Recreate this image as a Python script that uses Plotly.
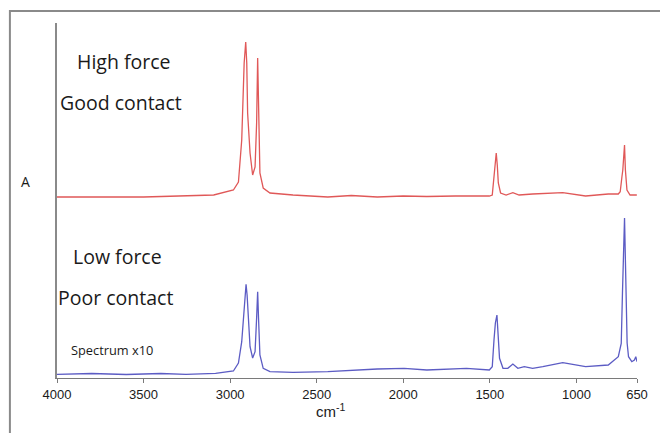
import plotly.graph_objects as go

# ---- data (wavenumber, absorbance in arbitrary display units) ----
red_wn = [4000, 3500, 3095, 2981, 2952, 2933, 2919, 2910, 2904, 2899, 2885, 2870, 2856, 2847,
          2841, 2836, 2828, 2809, 2770, 2637, 2436, 2300, 2150, 2000, 1864, 1700, 1503, 1486,
          1473, 1463, 1457, 1451, 1438, 1406, 1367, 1331, 1253, 1194, 1079, 947, 816, 758,
          747, 737, 732, 722, 717, 708, 690, 651]
red_a = [181, 181, 183, 188, 196, 238, 315, 336, 315, 265, 225, 203, 211, 255,
         320, 255, 205, 190, 185, 183, 181, 182.5, 181, 182, 181.5, 182, 182, 183,
         205, 225, 213, 195, 185, 183, 185.3, 183, 184, 184.5, 185.3, 182, 184, 184,
         186.3, 201.3, 208, 233, 208, 188, 183, 183]

blue_wn = [4000, 3800, 3600, 3400, 3255, 3084, 2981, 2952, 2933, 2923, 2913, 2908, 2902, 2896,
           2885, 2870, 2856, 2847, 2841, 2836, 2828, 2809, 2770, 2637, 2436, 2150, 1995, 1864,
           1635, 1503, 1486, 1476, 1468, 1459, 1453, 1444, 1424, 1396, 1367, 1338, 1301, 1253,
           1194, 1079, 947, 816, 758, 741, 734, 728, 722, 717, 714, 707, 699, 680, 665, 657, 650]
blue_a = [3.7, 4.5, 3.5, 4.5, 3.7, 4.7, 7, 15, 36.3, 63, 83, 93.7, 83, 60,
          31.3, 20, 26.3, 60, 86.3, 60, 23, 9.7, 6.3, 5.7, 6.3, 9, 9.7, 8,
          9.7, 8, 11.3, 38, 55, 63, 41.3, 19.7, 9.7, 9.7, 14, 9.7, 11.3, 9.7,
          11.3, 15.3, 11.3, 13, 21.3, 34.7, 85, 118, 160, 118, 75, 35, 21.3, 16.3, 18, 21.3, 16.3]

tick_vals = [4000, 3500, 3000, 2500, 2000, 1500, 1000, 650]
tick_text = ["4000", "3500", "3000", "2500", "2000", "1500", "1000", "650"]

labels = ["High force", "Good contact", "Low force", "Poor contact", "Spectrum x10"]

# ---- layout geometry ----
W, H = 660, 433
L, R, T, B = 57, 18, 23, 55
PW, PH = W - L - R, H - T - B


def px(x):
    return (x - L) / PW


def py(y):
    return (H - B - y) / PH


fig = go.Figure()
fig.add_trace(go.Scatter(x=red_wn, y=red_a, mode="lines",
                         line=dict(color="#e05858", width=1.3), showlegend=False))
fig.add_trace(go.Scatter(x=blue_wn, y=blue_a, mode="lines",
                         line=dict(color="#5c5cc4", width=1.3), showlegend=False))

font_main = "Open Sans, Lato, sans-serif"
ann = []
pos = [(75, 62, 19.5), (58, 102, 19.5), (71, 256, 19.5), (56, 297, 19.5), (69, 350, 12.8)]
for text, (x, y, s) in zip(labels, pos):
    ann.append(dict(text=text, x=px(x), y=py(y), xref="paper", yref="paper",
                    xanchor="left", yanchor="middle", showarrow=False,
                    font=dict(family=font_main, size=s, color="#1a1a1a")))
ann.append(dict(text="A", x=px(25), y=py(182), xref="paper", yref="paper",
                xanchor="center", yanchor="middle", showarrow=False,
                font=dict(family=font_main, size=14, color="#1a1a1a")))
ann.append(dict(text="cm<sup>-1</sup>", x=px(333), y=py(410), xref="paper", yref="paper",
                xanchor="center", yanchor="middle", showarrow=False,
                font=dict(family="Liberation Sans, Arial, sans-serif", size=15, color="#1a1a1a")))

fig.update_layout(
    width=W, height=H,
    margin=dict(l=L, r=R, t=T, b=B),
    paper_bgcolor="white", plot_bgcolor="white",
    annotations=ann,
    shapes=[dict(type="rect", xref="paper", yref="paper",
                 x0=px(9.5), x1=px(700), y0=py(470), y1=py(11),
                 line=dict(color="#8a8a8a", width=2), fillcolor="rgba(0,0,0,0)", layer="below")],
    xaxis=dict(range=[4000, 650], tickvals=tick_vals, ticktext=tick_text,
               showline=True, linecolor="#7a7a7a", linewidth=1,
               ticks="outside", ticklen=4, tickcolor="#7a7a7a",
               showgrid=False, zeroline=False,
               tickfont=dict(family="Liberation Sans, Arial, sans-serif", size=13, color="#1a1a1a")),
    yaxis=dict(range=[0, 355], showline=True, linecolor="#8a8a8a", linewidth=1.5,
               showticklabels=False, ticks="", showgrid=False, zeroline=False),
)

fig.write_html("out.html", config={"displayModeBar": False},
               post_script="document.body.style.margin='0';document.body.style.overflow='hidden';")
